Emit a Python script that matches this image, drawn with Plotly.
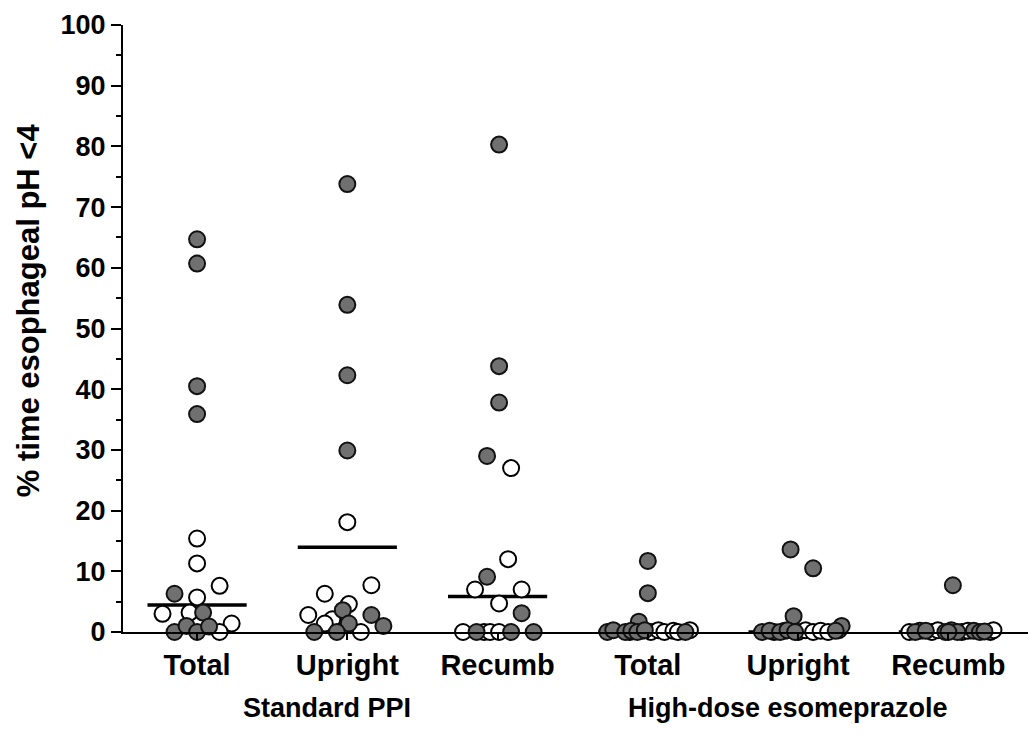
import plotly.graph_objects as go

# Categories along the x axis (one column per measurement period)
categories = ["Total", "Upright", "Recumb", "Total", "Upright", "Recumb"]
treatment_groups = ["Standard PPI", "High-dose esomeprazole"]

# % time with esophageal pH < 4 for each column.
# "pos" values: patients responding (filled), "neg": others (open)
pos_values = [
    [64.7, 60.7, 40.5, 35.9, 6.3, 3.2, 0.0, 1.0, 0.0, 0.9],
    [73.8, 53.9, 42.3, 29.9, 3.6, 1.4, 2.8, 1.0, 0.0, 0.0],
    [80.3, 43.8, 37.8, 29.0, 9.1, 3.1, 0.0, 0.0, 0.0],
    [11.7, 6.4, 1.7, 0.0, 0.3, 0.0, 0.2, 0.0, 0.3, 0.0],
    [13.6, 10.5, 2.6, 1.0, 0.0, 0.2, 0.0, 0.3, 0.0, 0.2],
    [7.7, 0.0, 0.2, 0.0, 0.3, 0.0, 0.2, 0.0, 0.1, 0.0],
]
neg_values = [
    [15.4, 11.3, 7.6, 5.7, 3.0, 3.2, 1.4, 0.0],
    [18.1, 6.3, 7.7, 2.8, 4.6, 2.1, 1.4, 0.0],
    [27.0, 12.0, 7.0, 7.0, 4.7, 0.0, 0.0, 0.0, 0.0],
    [0.0, 0.2, 0.0, 0.3, 0.0, 0.2, 0.0, 0.3],
    [0.0, 0.2, 0.0, 0.3, 0.0, 0.2, 0.0, 0.3],
    [0.0, 0.2, 0.0, 0.3, 0.0, 0.2, 0.0, 0.3],
]

# Horizontal scatter of each dot around its column centre (column widths)
pos_spread = [
    [0.0, 0.0, 0.0, 0.0, -0.15, 0.04, -0.15, -0.07, 0.0, 0.08],
    [0.0, 0.0, 0.0, 0.0, -0.03, 0.01, 0.16, 0.24, -0.22, -0.07],
    [0.01, 0.01, 0.01, -0.07, -0.07, 0.16, -0.14, 0.09, 0.24],
    [0.0, 0.0, -0.06, -0.27, -0.23, -0.15, -0.11, -0.07, -0.02, 0.25],
    [-0.05, 0.10, -0.03, 0.29, -0.24, -0.19, -0.12, -0.07, -0.02, 0.25],
    [0.03, -0.22, -0.15, -0.02, 0.02, 0.06, 0.17, 0.21, 0.24, 0.0],
]
neg_spread = [
    [0.0, 0.0, 0.15, 0.0, -0.23, -0.05, 0.23, 0.15],
    [0.0, -0.15, 0.16, -0.26, 0.01, -0.10, -0.15, 0.09],
    [0.09, 0.07, -0.15, 0.16, 0.01, -0.23, -0.09, -0.05, 0.01],
    [-0.12, -0.04, 0.02, 0.07, 0.11, 0.17, 0.20, 0.28],
    [-0.16, -0.09, 0.0, 0.05, 0.10, 0.15, 0.20, 0.27],
    [-0.26, -0.19, -0.11, -0.07, 0.09, 0.13, 0.28, 0.30],
]

# Summary bar drawn across each column
summary_values = [4.45, 13.95, 5.85, 0.0, 0.0, 0.0]

FONT = "Liberation Sans, Arial, Helvetica, sans-serif"
GREY = "#707070"

fig = go.Figure()

half = 0.33
for i, val in enumerate(summary_values):
    fig.add_trace(go.Scatter(
        x=[i - half, i + half], y=[val, val], mode="lines",
        line=dict(color="black", width=3.5), hoverinfo="skip",
        showlegend=False, cliponaxis=False,
    ))

for i in range(len(categories)):
    fig.add_trace(go.Scatter(
        x=[i + d for d in neg_spread[i]], y=neg_values[i], mode="markers",
        marker=dict(size=16, color="white", line=dict(color="black", width=2)),
        showlegend=False, cliponaxis=False,
    ))
    fig.add_trace(go.Scatter(
        x=[i + d for d in pos_spread[i]], y=pos_values[i], mode="markers",
        marker=dict(size=16, color=GREY, line=dict(color="#111111", width=2)),
        showlegend=False, cliponaxis=False,
    ))

fig.update_layout(
    width=1028, height=747,
    margin=dict(l=123, r=0, t=25, b=115),
    paper_bgcolor="white", plot_bgcolor="white",
    font=dict(family=FONT, color="black"),
    xaxis=dict(
        range=[-0.493, 5.53],
        tickmode="array", tickvals=list(range(len(categories))), ticktext=categories,
        tickfont=dict(size=29, weight="bold"),
        showline=True, linecolor="black", linewidth=2,
        ticks="outside", ticklen=6, tickwidth=1.5, tickcolor="black",
        showgrid=False, zeroline=False,
    ),
    yaxis=dict(
        range=[0, 100], tickmode="linear", tick0=0, dtick=10,
        tickfont=dict(size=27, weight="bold"),
        showline=True, linecolor="black", linewidth=2,
        ticks="outside", ticklen=10, tickwidth=2, tickcolor="black",
        minor=dict(dtick=5, ticks="outside", ticklen=5, tickwidth=1.5, tickcolor="black"),
        showgrid=False, zeroline=False,
    ),
    annotations=[
        dict(text="% time esophageal pH <4", textangle=-90,
             xref="paper", yref="paper", x=-0.105, y=0.53,
             xanchor="center", yanchor="middle",
             showarrow=False, font=dict(size=31, weight="bold")),
        dict(text=treatment_groups[0], xref="x", yref="paper", x=0.866, y=-0.097,
             yanchor="top", showarrow=False, font=dict(size=27, weight="bold")),
        dict(text=treatment_groups[1], xref="x", yref="paper", x=3.93, y=-0.097,
             yanchor="top", showarrow=False, font=dict(size=27, weight="bold")),
    ],
)

fig.write_html("out.html")
